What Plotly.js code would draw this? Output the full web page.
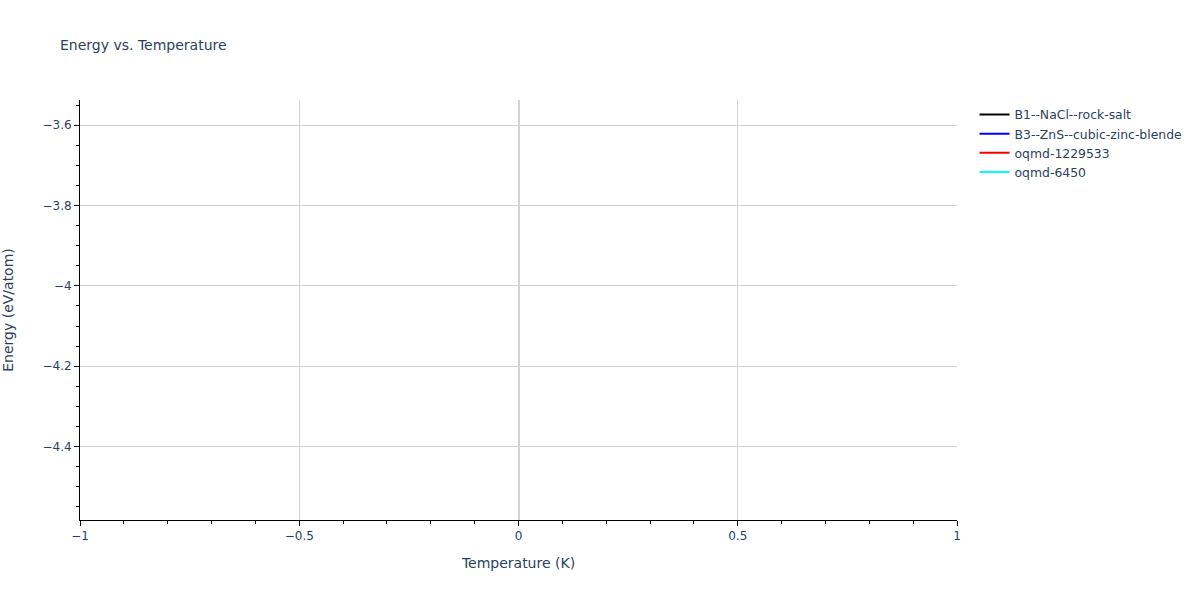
<!DOCTYPE html>
<html>
<head>
<meta charset="utf-8">
<script src="https://cdn.plot.ly/plotly-3.0.1.min.js"></script>
<style>html,body{margin:0;padding:0;}#chart{width:1200px;height:600px;}</style>
</head>
<body>
<div id="chart"></div>
<script>
const seriesNames = ["B1--NaCl--rock-salt", "B3--ZnS--cubic-zinc-blende", "oqmd-1229533", "oqmd-6450"];
const seriesColors = ["black", "blue", "red", "cyan"];
const temperatures = [[0], [0], [0], [0]];
const energies = [[-3.58], [-4.54], [-3.86], [-4.21]];
const yRange = [-4.5825, -3.5375];
const xRange = [-1, 1];

const traces = seriesNames.map((n, i) => ({
  type: 'scatter', mode: 'lines', name: n,
  x: temperatures[i], y: energies[i],
  line: {color: seriesColors[i]}
}));

const axisStyle = {
  showline: true, linecolor: 'black', linewidth: 1,
  gridcolor: 'lightgray', zerolinecolor: 'lightgray', zerolinewidth: 2,
  ticks: 'outside', tickcolor: 'black',
  minor: {ticks: 'outside', tickcolor: 'black', showgrid: false}
};

Plotly.newPlot('chart', traces, {
  width: 1200, height: 600,
  font: {family: 'Verdana, "DejaVu Sans", sans-serif', color: '#2a3f5f', size: 12},
  title: {text: 'Energy vs. Temperature', x: 0.05, xanchor: 'left', font: {size: 14}},
  plot_bgcolor: 'white', paper_bgcolor: 'white',
  legend: {font: {size: 12.4}},
  xaxis: Object.assign({}, axisStyle, {title: {text: 'Temperature (K)', standoff: 15}, range: xRange}),
  yaxis: Object.assign({}, axisStyle, {title: {text: 'Energy (eV/atom)', standoff: 28}, range: yRange}),
  showlegend: true
}, {displayModeBar: false});
</script>
</body>
</html>
